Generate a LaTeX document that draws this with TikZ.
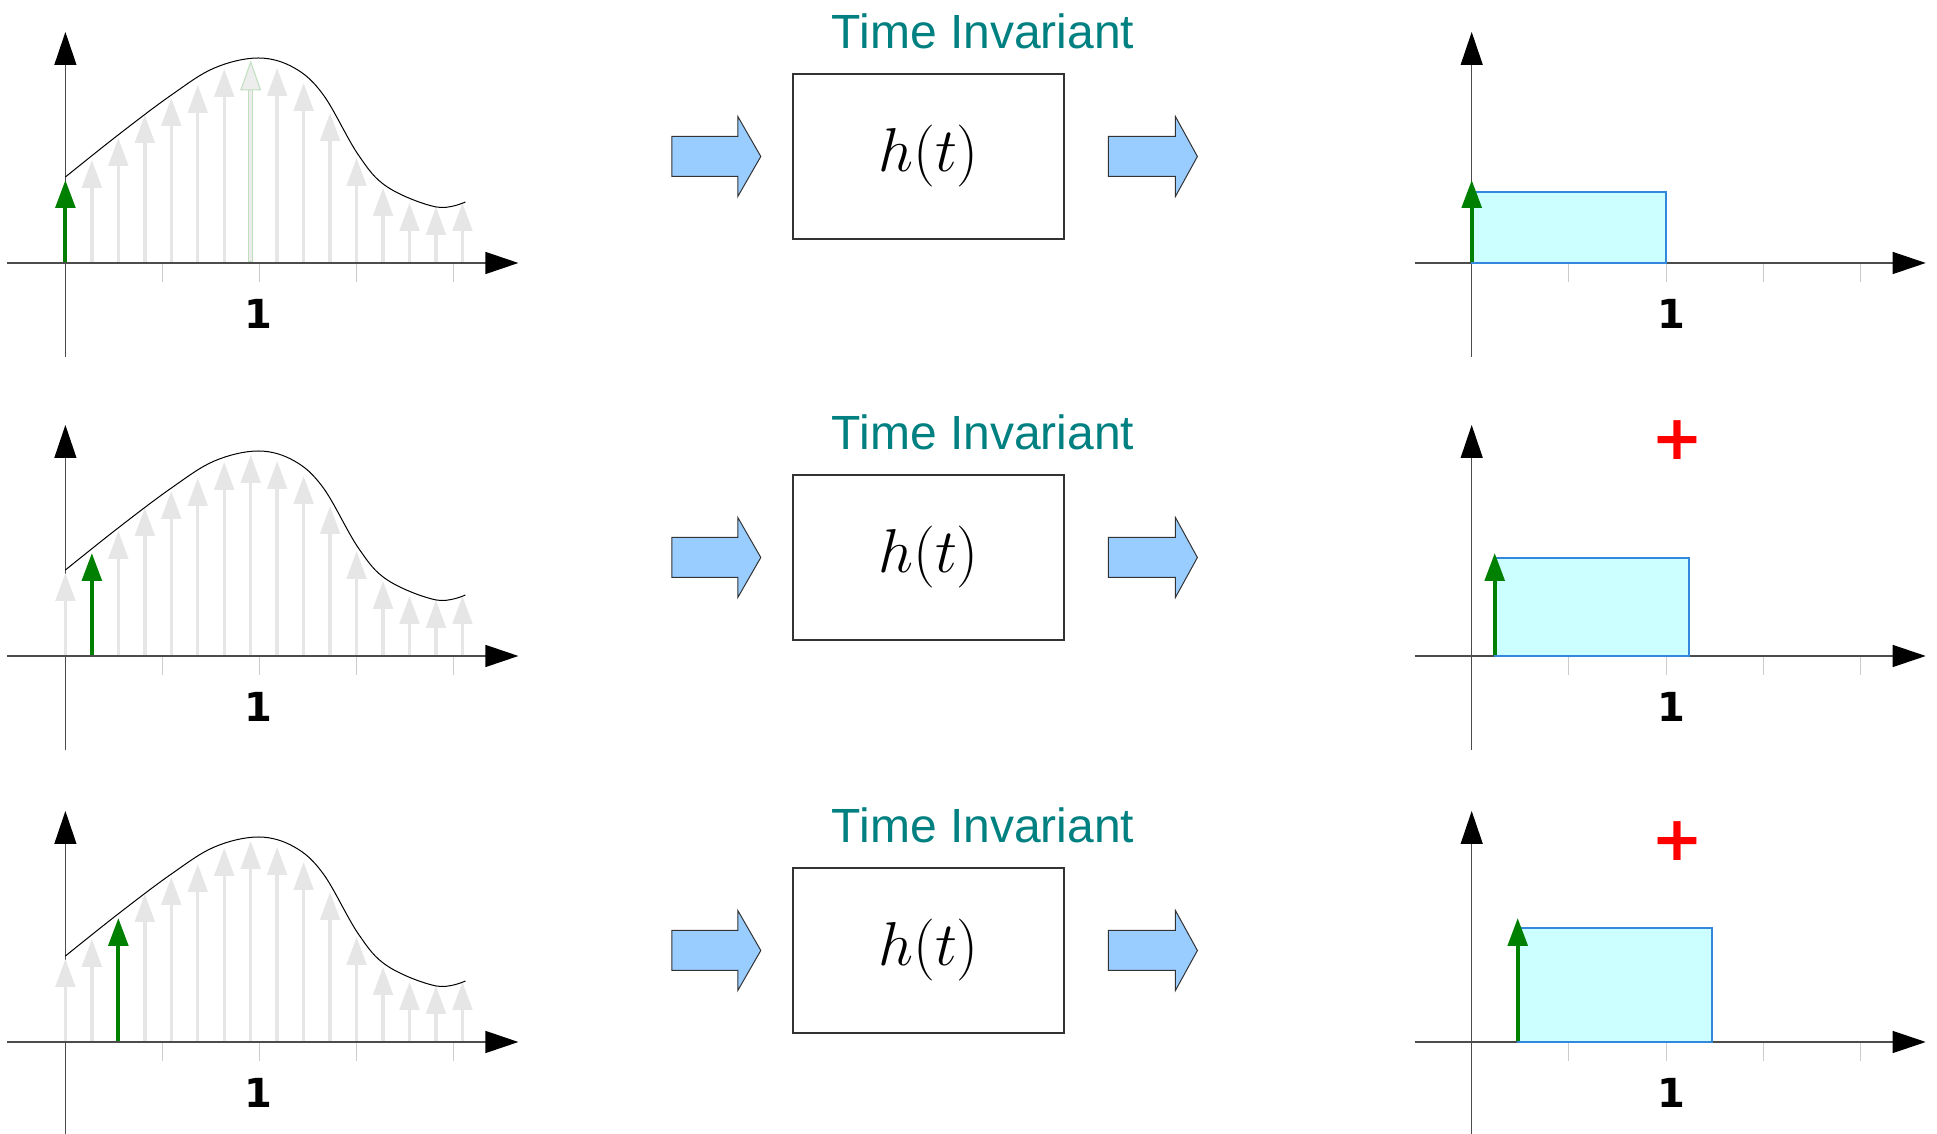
\documentclass[tikz,border=0pt]{standalone}
\usepackage{fontspec}
\setsansfont{Liberation Sans}
\newfontfamily\labelfont{DejaVu Sans}
\usetikzlibrary{arrows.meta,calc}

\definecolor{stemgray}{RGB}{230,230,230}
\definecolor{stemgreen}{RGB}{0,128,0}
\definecolor{paleblue}{RGB}{153,204,255}
\definecolor{rectfill}{RGB}{204,255,255}
\definecolor{rectline}{RGB}{51,136,221}
\definecolor{titleteal}{RGB}{0,128,128}

\tikzset{
  axisline/.style={black!70,line width=0.65pt,-{Triangle[length=16.5pt,width=11pt,color=black]}},
  tickmark/.style={black!20,line width=0.5pt},
  stem/.style={stemgray,line width=1.7pt,-{Triangle[length=14pt,width=9.8pt]}},
  impulse/.style={stemgreen,line width=2pt,-{Triangle[length=14pt,width=9.8pt]}},
  selstem/.style={fill=stemgray!70,draw=green!50!black!25,line width=0.5pt},
  onelabel/.style={font=\labelfont\bfseries\fontsize{20}{24}\selectfont},
  plussign/.style={text=red,font=\labelfont\bfseries\fontsize{31}{36}\selectfont,inner sep=0pt},
  titlelabel/.style={text=titleteal,font=\sffamily\fontsize{24}{29}\selectfont,inner sep=0pt,anchor=base},
  system/.style={draw=black!80,line width=0.7pt,minimum width=135.5pt,minimum height=82.5pt,inner sep=0pt},
  fatarrow/.style={draw=black!80,line width=0.5pt,fill=paleblue,line join=miter},
  pulse/.style={draw=rectline,line width=0.8pt,fill=rectfill},
}

\begin{document}
\begin{tikzpicture}[x=0.5pt,y=0.5pt]
  \useasboundingbox (0,0) rectangle (1937,1134);

  \foreach \row/\oy/\cy/\g/\gh/\rh/\py in {1/871/977.5/0/83/71/0, 2/478/576.5/1/103/98/216, 3/92/183.5/2/124/114/201}
  {
    % input: sampled signal
    \begin{scope}[shift={(65.4,\oy)}]
      \foreach \j in {0,...,4}
        \draw[tickmark] ({\j*97},0) -- ({\j*97},-19);
      \draw[axisline] (-58,0) -- (453,0);
      \draw[axisline] (0,-94) -- (0,231);
      \foreach \k/\h in {0/83,1/103,2/125,3/148,4/165,5/178,6/194,7/201,8/195,9/180,10/150,11/105,12/75,13/60,14/56,15/60}
        {
          \ifnum\k=\g
            \draw[impulse] ({\k*26.47},1) -- ({\k*26.47},\gh);
          \else
            \draw[stem] ({\k*26.47},1) -- ({\k*26.47},\h);
          \fi
        }
      \ifnum\row=1
        \draw[selstem] (183.3,1) rectangle (187.3,173);
        \draw[selstem] (175.5,173) -- (185.3,201) -- (195.1,173) -- cycle;
      \fi
      \draw[black,line width=0.5pt] plot[smooth,tension=0.6] coordinates
        {(0,86) (52.7,128) (106,168) (149,195) (193,205) (229,195) (258,168) (293,108) (322,76) (371,56) (400,61)};
      \node[onelabel] (lin\row) at (193,-51) {1};
    \end{scope}

    % system block
    \node[system] (sys\row) at (928.5,\cy) {\scalebox{1.245}{\fontsize{24.88}{30}\selectfont$h(t)$}};
    \node[titlelabel] (ti\row) at ($(sys\row.center)+(54.5,108)$) {Time Invariant};
    \draw[fatarrow] ($(sys\row.west)+(-120.5,-20)$) -- ++(66,0) -- ++(0,-20) -- ++(23,40)
      -- ++(-23,40) -- ++(0,-20) -- ++(-66,0) -- cycle;
    \draw[fatarrow] ($(sys\row.east)+(43.7,-20)$) -- ++(67,0) -- ++(0,-20) -- ++(22,40)
      -- ++(-22,40) -- ++(0,-20) -- ++(-67,0) -- cycle;

    % output: shifted pulse
    \begin{scope}[shift={(1471.7,\oy)}]
      \foreach \j in {0,...,4}
        \draw[tickmark] ({\j*97.2},0) -- ({\j*97.2},-19);
      \draw[axisline] (-57,0) -- (454,0);
      \draw[axisline] (0,-94) -- (0,231);
      \draw[pulse] ({\g*23},0) rectangle ({\g*23+194},\rh);
      \draw[impulse] ({\g*23},1) -- ({\g*23},\gh);
      \node[onelabel] (lout\row) at (200,-51) {1};
      \ifnum\row>1
        \node[plussign] (plus\row) at (206,\py) {+};
      \fi
    \end{scope}
  }
\end{tikzpicture}
\end{document}
